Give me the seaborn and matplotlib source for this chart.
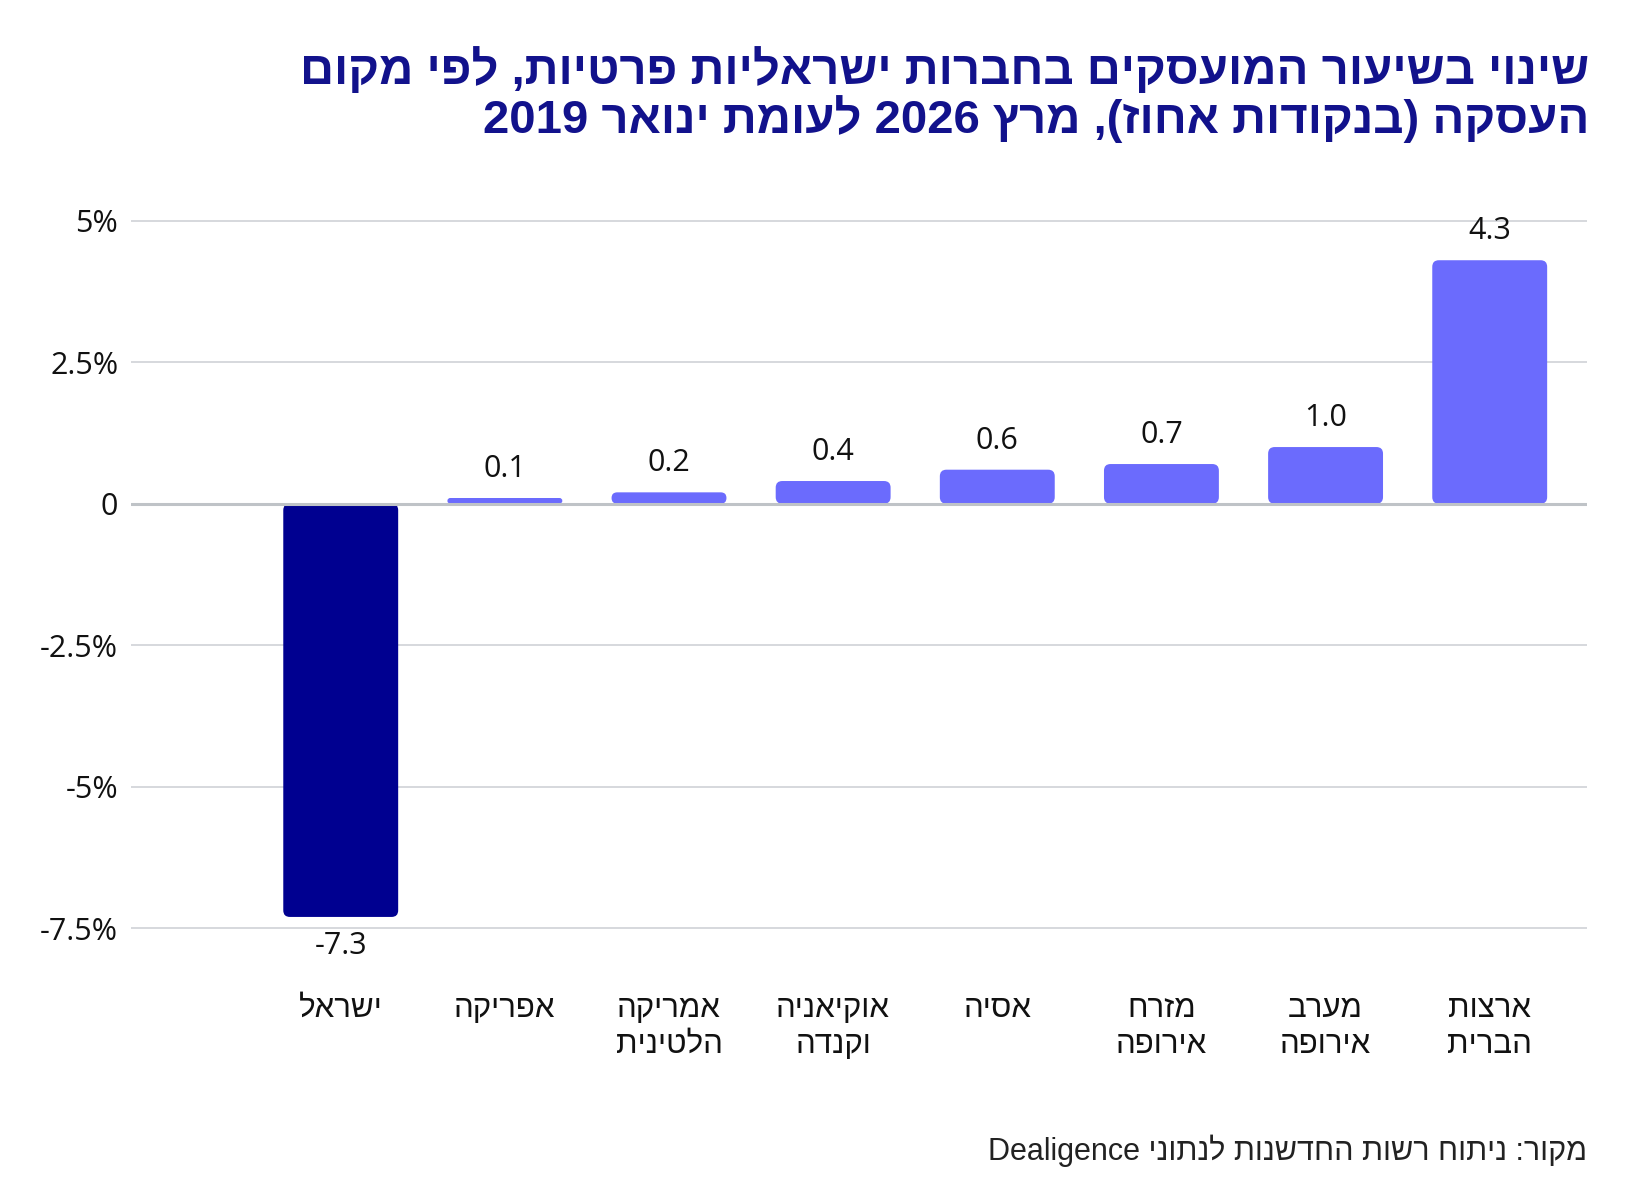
import matplotlib
matplotlib.use('Agg')
import matplotlib.pyplot as plt
from matplotlib.patches import FancyBboxPatch
import seaborn as sns
import pandas as pd
import re

# data (logical Hebrew order)
regions = ['ישראל', 'אפריקה', 'אמריקה\nהלטינית', 'אוקיאניה\nוקנדה',
           'אסיה', 'מזרח\nאירופה', 'מערב\nאירופה', 'ארצות\nהברית']
change = [-7.3, 0.1, 0.2, 0.4, 0.6, 0.7, 1.0, 4.3]
yticks = [5, 2.5, 0, -2.5, -5, -7.5]
ytick_labels = ['5%', '2.5%', '0', '-2.5%', '-5%', '-7.5%']
title_lines = ['שינוי בשיעור המועסקים בחברות ישראליות פרטיות, לפי מקום',
               'העסקה (בנקודות אחוז), מרץ 2026 לעומת ינואר 2019']
source = 'מקור: ניתוח רשות החדשנות לנתוני Dealigence'

NAVY = '#000090'
LILAC = '#6B6BFD'
HEB = ['Liberation Sans', 'DejaVu Sans']
NUM = ['Open Sans', 'DejaVu Sans']


def rtl(s):
    # matplotlib draws left to right, so flip Hebrew into visual order
    out = s[::-1]
    out = re.sub(r'[A-Za-z0-9.]+', lambda m: m.group(0)[::-1], out)
    out = out.translate(str.maketrans('()', ')('))
    return out


def rtl_lines(s):
    return '\n'.join(rtl(line) for line in s.split('\n'))


df = pd.DataFrame({'region': regions, 'change': change})
colors = [NAVY if v < 0 else LILAC for v in change]

sns.set_theme(style='white')
plt.rcParams['font.family'] = HEB

fig = plt.figure(figsize=(16.39, 12), dpi=100)
ax = fig.add_axes([0.0797, 0.2123, 0.8883, 0.6133])

sns.barplot(
    data=df,
    x='region',
    y='change',
    hue='region',
    palette=colors,
    width=0.7,
    legend=False,
    saturation=1,
    ax=ax
)

ax.set_xlim(-1.28, 7.59)
ax.set_ylim(-7.8, 5.2)

# grid
for t in yticks:
    if t == 0:
        continue
    ax.axhline(t, color='#D3D6DA', lw=1.3, zorder=0)
ax.axhline(0, color='#BFC3C7', lw=2.2, zorder=3)

ax.set_yticks(yticks)
ax.set_yticklabels(ytick_labels, family=NUM, fontsize=22, color='#111111')
ax.set_xticks(range(len(regions)))
ax.set_xticklabels([rtl_lines(r) for r in regions], family=HEB,
                   fontsize=22.5, color='#111111', linespacing=1.25)
ax.tick_params(axis='y', length=0, pad=9)
ax.tick_params(axis='x', length=0, pad=35)
ax.set_xlabel('')
ax.set_ylabel('')
for s in ax.spines.values():
    s.set_visible(False)

# value labels
for c in ax.containers:
    ax.bar_label(c, labels=[f'{b.get_height():.1f}' for b in c],
                 padding=10, family=NUM, fontsize=22, color='#111111')

# rounded bar corners
fig.canvas.draw()
bbox = ax.get_window_extent()
px_x = bbox.width / (ax.get_xlim()[1] - ax.get_xlim()[0])
px_y = bbox.height / (ax.get_ylim()[1] - ax.get_ylim()[0])
aspect = px_x / px_y
for p in list(ax.patches):
    x, y = p.get_x(), p.get_y()
    w, h = p.get_width(), p.get_height()
    y0, hh = min(y, y + h), abs(h)
    r = min(0.04, hh / 2 / aspect)
    fb = FancyBboxPatch((x, y0), w, hh,
                        boxstyle=f'round,pad=0,rounding_size={r}',
                        mutation_aspect=aspect,
                        facecolor=p.get_facecolor(), edgecolor='none',
                        zorder=2)
    p.remove()
    ax.add_patch(fb)

# title and source
fig.text(0.9695, 1 - 84 / 1200, rtl(title_lines[0]), ha='right', va='baseline',
         fontsize=34, fontweight='bold', color='#12128C', family=HEB)
fig.text(0.9695, 1 - 133 / 1200, rtl(title_lines[1]), ha='right', va='baseline',
         fontsize=34, fontweight='bold', color='#12128C', family=HEB)
fig.text(0.968, 1 - 1160 / 1200, rtl(source), ha='right', va='baseline',
         fontsize=22, color='#222222', family=HEB)

fig.savefig('out.png', dpi=100, facecolor='white')
